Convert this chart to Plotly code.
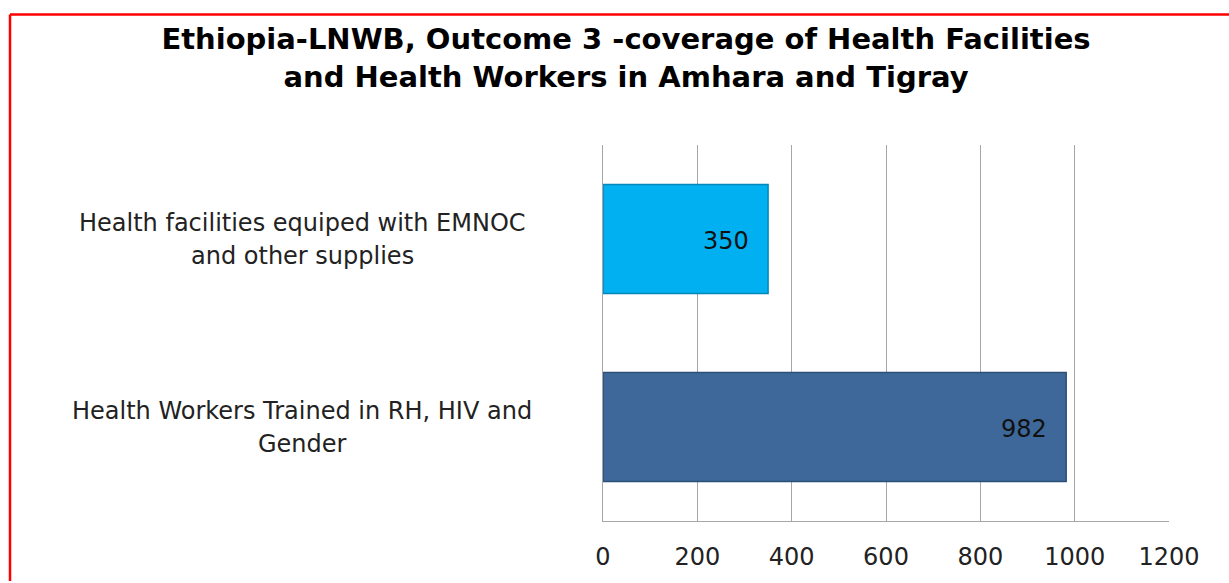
import plotly.graph_objects as go

# chart data (top to bottom)
cat_lines = [
    ["Health facilities equiped with EMNOC", "and other supplies"],
    ["Health Workers Trained in RH, HIV and", "Gender"],
]
categories = [" ".join(l) for l in cat_lines]
values = [350, 982]
bar_colors = ["#00B0F0", "#3D6899"]
edge_colors = ["#0088BB", "#2C4F78"]
x_ticks = [0, 200, 400, 600, 800, 1000, 1200]

title = ("Ethiopia-LNWB, Outcome 3 -coverage of Health Facilities<br>"
         "and Health Workers in Amhara and Tigray")

W, H = 1229, 583
L, R, T, B = 603, 60, 145, 56
pw, ph = W - L - R, H - T - B

FONT = "DejaVu Sans"

fig = go.Figure()
fig.add_trace(go.Bar(
    x=values, y=categories, orientation="h",
    marker=dict(color=bar_colors, line=dict(color=edge_colors, width=1.5)),
    hoverinfo="none",
))

ann = []
# value labels inside the bar ends
for c, v in zip(categories, values):
    ann.append(dict(x=v, y=c, xref="x", yref="y", text=str(v), showarrow=False,
                    xanchor="right", xshift=-17, yshift=-2,
                    font=dict(family=FONT, size=24, color="#111111")))

# category labels, centred lines
for c, lines in zip(categories, cat_lines):
    n = len(lines)
    for i, t in enumerate(lines):
        ann.append(dict(x=(302 - L) / pw, y=c, xref="paper", yref="y", text=t, showarrow=False,
                        xanchor="center", yshift=(n - 1) / 2 * 33 - i * 33,
                        font=dict(family=FONT, size=24, color="#222222")))

fig.update_layout(
    width=W, height=H,
    margin=dict(l=L, r=R, t=T, b=B),
    paper_bgcolor="white", plot_bgcolor="white",
    showlegend=False,
    bargap=0.42,
    title=dict(text=title, x=626 / W, xanchor="center", y=1 - 49 / H, yanchor="middle",
               font=dict(family=FONT, size=29, color="#000000", weight="bold")),
    annotations=ann,
    xaxis=dict(range=[0, 1200], tickvals=x_ticks, showgrid=True, gridcolor="#A6A6A6", gridwidth=1,
               showline=True, linecolor="#A6A6A6", linewidth=1, zeroline=False,
               ticks="", ticklabelstandoff=14,
               tickfont=dict(family=FONT, size=24, color="#222222")),
    yaxis=dict(autorange="reversed", showticklabels=False, showgrid=False,
               showline=True, linecolor="#A6A6A6", linewidth=1, ticks=""),
    shapes=[
        dict(type="line", xref="paper", yref="paper",
             x0=(10 - L) / pw, x1=(W + 5 - L) / pw, y0=(H - B - 12.5) / ph, y1=(H - B - 12.5) / ph,
             line=dict(color="#FF0000", width=2.5)),
        dict(type="line", xref="paper", yref="paper",
             x0=(10 - L) / pw, x1=(10 - L) / pw, y0=(H - B - 12.5) / ph, y1=(-B - 5) / ph,
             line=dict(color="#FF0000", width=2.5)),
    ],
)

fig.write_html("out.html", config={"displayModeBar": False},
               post_script="document.body.style.margin='0';")
